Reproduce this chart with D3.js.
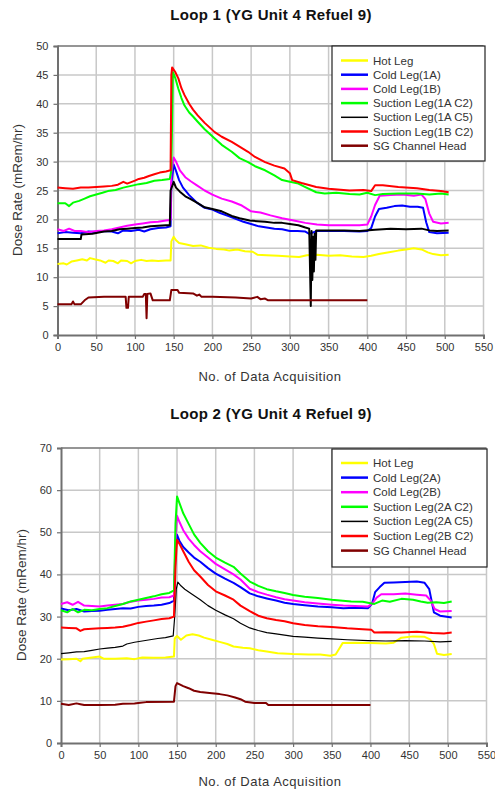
<!DOCTYPE html>
<html>
<head>
<meta charset="utf-8">
<script src="https://cdn.jsdelivr.net/npm/d3@7"></script>
<style>
  body { margin: 0; background: #fff; }
  svg { display: block; font-family: "Liberation Sans", Arial, sans-serif; }
  .tick text { fill: #333; }
</style>
</head>
<body>
<div id="chart"></div>
<script>
const svgWidth = 495
const svgHeight = 794

// x ticks shared by both loops
const xTicks = [0, 50, 100, 150, 200, 250, 300, 350, 400, 450, 500, 550]
const loop1YTicks = [0, 5, 10, 15, 20, 25, 30, 35, 40, 45, 50]
const loop2YTicks = [0, 10, 20, 30, 40, 50, 60, 70]

const loop1Names = ["Hot Leg", "Cold Leg(1A)", "Cold Leg(1B)", "Suction Leg(1A C2)", "Suction Leg(1A C5)", "Suction Leg(1B C2)", "SG Channel Head"]
const loop2Names = ["Hot Leg", "Cold Leg(2A)", "Cold Leg(2B)", "Suction Leg(2A C2)", "Suction Leg(2A C5)", "Suction Leg(2B C2)", "SG Channel Head"]
const seriesColors = ["#ffff00", "#0000ff", "#ff00ff", "#00ff00", "#000000", "#ff0000", "#800000"]

// Loop 1 readings, [data acquisition no., mRem/hr]
const loop1Hot = [[0,12.3],[8,12.4],[12,12.2],[18,12.7],[25,12.9],[32,13.1],[38,12.9],[42,13.3],[48,13.1],[55,12.9],[62,12.5],[66,12.9],[72,12.8],[78,12.4],[82,12.9],[90,12.8],[95,12.4],[100,12.8],[108,13.0],[115,12.8],[122,12.9],[130,12.8],[140,12.9],[146,12.9],[147,16.2],[150,17.0],[153,16.4],[157,15.9],[165,15.7],[175,15.4],[185,15.5],[195,15.1],[205,14.9],[215,14.8],[222,14.6],[232,14.8],[242,14.5],[252,14.4],[258,13.9],[270,13.8],[285,13.7],[300,13.6],[312,13.5],[322,13.8],[335,13.9],[350,13.7],[365,13.8],[380,13.6],[395,13.5],[405,13.7],[415,14.0],[428,14.3],[440,14.6],[450,14.8],[460,15.0],[470,14.8],[478,14.3],[485,14.0],[495,13.8],[505,13.9]]
const loop1ColdA = [[0,17.6],[10,17.8],[20,17.7],[30,17.6],[40,17.9],[50,17.8],[60,18.0],[70,17.9],[78,17.6],[85,18.1],[95,18.0],[105,18.2],[112,17.9],[120,18.3],[130,18.5],[140,18.6],[146,18.8],[147,26],[150,29.5],[153,28.4],[157,26.8],[162,25.5],[170,24.2],[180,22.9],[190,22.0],[200,21.7],[210,21.1],[220,20.6],[230,20.1],[240,19.6],[250,19.2],[260,18.8],[270,18.6],[280,18.4],[290,18.3],[300,18.0],[310,18.0],[320,17.9],[325,17.5],[335,18.0],[350,18.0],[370,18.0],[390,17.9],[400,18.0],[405,18.5],[410,20.5],[415,21.8],[425,22.0],[435,22.3],[445,22.4],[455,22.2],[465,22.2],[472,22.0],[476,19.5],[480,17.8],[490,17.6],[505,17.7]]
const loop1ColdB = [[0,18.3],[8,18.0],[15,18.4],[22,18.0],[30,18.0],[40,17.8],[50,18.0],[60,18.1],[70,18.3],[80,18.6],[90,18.9],[100,19.1],[110,19.3],[120,19.5],[130,19.6],[140,19.8],[146,19.9],[147,28],[150,30.7],[153,30.0],[158,28.5],[165,27.3],[172,26.6],[180,25.9],[190,25.0],[200,24.3],[212,23.6],[225,23.1],[238,22.4],[250,21.4],[262,21.2],[275,20.7],[290,20.2],[305,19.8],[320,19.4],[335,19.1],[350,19.0],[370,19.0],[390,19.0],[400,19.1],[405,20.5],[410,22.5],[416,24.1],[430,24.2],[445,24.3],[460,24.1],[470,24.3],[475,23.5],[480,21.0],[485,19.6],[495,19.3],[505,19.4]]
const loop1SucAC2 = [[0,22.8],[10,22.8],[15,22.3],[20,22.9],[28,23.2],[35,23.6],[42,24.0],[50,24.3],[58,24.6],[65,24.9],[75,25.1],[85,25.5],[95,25.8],[105,26.1],[115,26.3],[125,26.7],[135,26.8],[145,27.0],[147,28.5],[149,45.5],[152,44.5],[156,42.6],[160,41.0],[164,39.7],[170,38.5],[175,37.8],[181,36.9],[190,35.6],[203,34.0],[212,32.9],[225,31.7],[235,30.6],[246,29.9],[255,29.2],[268,28.5],[280,27.6],[290,26.8],[300,26.5],[311,26.2],[320,25.6],[334,24.7],[345,24.5],[360,24.6],[377,24.4],[390,24.3],[400,24.6],[410,24.2],[420,24.4],[440,24.5],[464,24.5],[480,24.3],[495,24.5],[505,24.3]]
const loop1SucAC5 = [[0,16.6],[30,16.6],[31,17.4],[45,17.5],[60,17.9],[70,18.0],[80,18.3],[90,18.4],[100,18.5],[110,18.6],[120,18.8],[130,18.9],[140,19.0],[145,19.0],[146,25.0],[150,26.5],[153,25.5],[158,24.8],[165,24.0],[172,23.5],[181,22.8],[190,22.1],[200,21.8],[212,21.4],[225,20.6],[235,20.2],[248,19.8],[258,19.7],[268,19.6],[280,19.4],[290,19.4],[300,19.2],[311,19.0],[320,18.6],[325,18.4],[327,5.0],[328,18.0],[329,9.5],[330,17.0],[331,11.0],[332,17.5],[333,13.0],[334,18.1],[350,18.1],[370,18.1],[390,18.0],[410,18.2],[430,18.4],[450,18.3],[470,18.4],[480,18.1],[490,18.0],[505,18.1]]
const loop1SucBC2 = [[0,25.5],[10,25.4],[20,25.3],[30,25.5],[40,25.5],[50,25.6],[60,25.7],[70,25.8],[78,26.0],[85,26.5],[90,26.2],[100,26.7],[105,27.0],[112,27.2],[118,27.5],[125,27.8],[132,28.1],[140,28.3],[146,28.5],[147,45],[148,46.3],[152,45.5],[156,44.4],[160,42.7],[164,41.5],[170,40.0],[175,39.0],[181,38.0],[190,36.7],[203,35.1],[212,34.3],[225,33.4],[235,32.6],[246,31.7],[255,30.8],[268,29.9],[280,29.3],[293,28.8],[300,28.0],[303,26.8],[315,26.3],[334,25.6],[350,25.3],[377,25.0],[395,25.1],[405,24.9],[410,25.9],[420,25.9],[440,25.6],[464,25.4],[480,25.1],[495,24.9],[505,24.7]]
const loop1SG = [[0,5.3],[18,5.3],[20,5.8],[22,5.3],[30,5.3],[35,6.0],[40,6.5],[60,6.6],[88,6.6],[89,4.7],[91,4.7],[92,6.6],[110,6.6],[112,7.1],[114,7.1],[115,2.9],[116,7.1],[120,7.2],[123,6.0],[145,6.0],[147,7.8],[155,7.8],[157,7.3],[175,7.2],[180,6.8],[183,7.0],[186,6.6],[200,6.6],[230,6.5],[250,6.3],[258,6.6],[262,6.2],[268,6.3],[272,6.0],[400,6.0]]

// Loop 2 readings
const loop2Hot = [[0,19.8],[10,19.9],[20,20.0],[25,19.4],[28,20.0],[40,20.3],[50,20.5],[55,20.0],[70,20.0],[85,20.1],[95,19.9],[105,20.3],[120,20.2],[135,20.3],[146,20.5],[147,24.8],[150,25.4],[155,24.5],[162,25.5],[170,25.8],[178,25.5],[185,25.0],[195,24.5],[205,24.0],[215,23.5],[223,22.9],[235,22.6],[244,22.5],[255,22.0],[266,21.7],[280,21.3],[300,21.1],[320,21.0],[335,21.0],[348,20.7],[355,21.0],[360,22.5],[364,23.7],[380,23.8],[400,23.7],[420,23.6],[430,23.8],[440,25.0],[455,25.3],[470,25.2],[477,24.6],[482,23.5],[486,21.2],[495,20.9],[505,21.1]]
const loop2ColdA = [[0,31.9],[10,31.5],[20,31.8],[30,31.2],[40,31.3],[50,31.4],[60,31.6],[70,31.8],[80,32.0],[90,31.9],[100,32.3],[110,32.5],[120,32.6],[130,32.8],[140,33.2],[146,33.8],[148,45],[150,49.4],[153,48.0],[158,46.5],[165,45.2],[172,44.0],[180,43.0],[190,41.5],[200,40.2],[212,39.0],[223,38.0],[232,37.0],[244,35.5],[255,34.8],[266,34.3],[278,33.8],[289,33.3],[300,33.0],[315,32.7],[332,32.4],[350,32.2],[365,32.0],[380,32.1],[397,32.0],[402,33.0],[406,35.8],[412,37.0],[418,38.0],[430,38.1],[445,38.2],[460,38.3],[470,38.0],[476,36.5],[482,31.0],[490,30.2],[505,29.8]]
const loop2ColdB = [[0,33.0],[8,33.4],[15,32.8],[22,33.5],[30,32.6],[40,32.5],[50,32.4],[60,32.6],[70,32.8],[80,33.0],[90,33.5],[100,33.8],[110,34.0],[120,34.2],[130,34.5],[140,34.6],[146,35.0],[148,48],[150,53.9],[153,52.5],[158,50.5],[165,48.5],[172,47.0],[180,45.5],[190,44.0],[200,42.5],[212,41.2],[223,40.0],[232,38.8],[244,36.6],[255,35.8],[266,35.2],[278,34.6],[289,34.1],[300,33.8],[315,33.4],[332,33.1],[350,32.8],[365,32.6],[380,32.5],[397,32.4],[402,33.0],[408,34.5],[414,35.3],[430,35.3],[445,35.5],[460,35.2],[472,35.0],[478,33.8],[483,31.8],[490,31.2],[505,31.3]]
const loop2SucAC2 = [[0,31.5],[8,31.0],[15,31.8],[22,31.0],[30,31.6],[40,31.5],[50,31.8],[60,32.0],[70,32.5],[80,33.0],[90,33.6],[100,34.0],[110,34.4],[120,34.8],[130,35.3],[140,35.6],[146,36.2],[148,52],[150,58.5],[153,57.0],[158,54.5],[165,52.0],[172,49.5],[180,47.5],[190,45.5],[200,44.0],[212,42.8],[223,41.8],[232,40.2],[244,38.3],[255,37.3],[266,36.5],[278,36.0],[289,35.6],[300,35.1],[315,34.7],[332,34.4],[350,34.0],[375,33.6],[390,33.5],[405,33.0],[415,33.8],[425,33.5],[440,34.2],[455,34.0],[465,33.6],[474,33.3],[485,33.4],[495,33.2],[505,33.6]]
const loop2SucAC5 = [[0,21.2],[10,21.4],[20,21.6],[30,21.7],[40,22.0],[50,22.3],[60,22.5],[70,22.7],[80,23.0],[85,23.5],[95,23.9],[105,24.2],[115,24.5],[125,24.8],[135,25.0],[145,25.4],[147,30],[149,36.5],[151,38.2],[155,37.3],[160,36.5],[168,35.5],[180,34.0],[190,32.6],[200,31.5],[212,30.4],[223,29.5],[232,28.4],[244,27.3],[255,26.7],[266,26.2],[278,25.9],[289,25.6],[300,25.3],[315,25.1],[332,24.9],[350,24.7],[370,24.5],[397,24.3],[420,24.2],[445,24.3],[470,24.2],[490,24.0],[505,24.1]]
const loop2SucBC2 = [[0,27.4],[10,27.3],[20,27.2],[25,26.6],[30,27.0],[40,27.1],[50,27.2],[60,27.3],[70,27.4],[80,27.6],[90,28.0],[100,28.5],[110,28.8],[120,29.1],[130,29.4],[140,29.6],[146,30.0],[148,42],[150,48.2],[153,47.3],[158,45.5],[165,43.0],[172,41.0],[180,39.5],[190,37.5],[200,36.0],[212,35.0],[223,34.0],[232,32.6],[244,31.3],[255,30.2],[266,29.6],[278,29.2],[289,28.9],[300,28.4],[315,28.0],[332,27.7],[350,27.5],[370,27.2],[390,27.0],[401,26.9],[405,26.2],[420,26.3],[440,26.2],[460,26.4],[480,26.1],[495,26.0],[505,26.2]]
const loop2SG = [[0,9.3],[10,9.0],[20,9.4],[25,9.2],[30,9.0],[50,9.0],[70,9.1],[80,9.3],[95,9.4],[100,9.5],[110,9.7],[146,9.8],[148,13.5],[150,14.2],[158,13.5],[165,13.0],[172,12.4],[180,12.1],[195,11.8],[205,11.6],[215,11.3],[225,10.8],[232,10.4],[238,9.8],[250,9.5],[265,9.5],[268,9.0],[300,9.0],[350,9.0],[400,9.0]]

let svg = d3
  .select("#chart")
  .append("svg")
  .attr("width", svgWidth)
  .attr("height", svgHeight)

/**
 * Draws one loop panel: grid, axes, lines, legend and labels.
 **/
function drawLoop(cfg) {
  let g = svg.append("g")

  let x = d3.scaleLinear().domain([0, 550]).range([cfg.left, cfg.right])
  let y = d3.scaleLinear().domain([0, cfg.yMax]).range([cfg.bottom, cfg.top])

  // grid
  g.append("g")
    .selectAll("line")
    .data(xTicks.slice(1))
    .enter()
    .append("line")
    .attr("x1", d => x(d))
    .attr("x2", d => x(d))
    .attr("y1", cfg.top)
    .attr("y2", cfg.bottom)
    .attr("stroke", "#c8c8c8")
    .attr("stroke-width", 1.5)

  g.append("g")
    .selectAll("line")
    .data(cfg.yTicks.slice(1))
    .enter()
    .append("line")
    .attr("x1", cfg.left)
    .attr("x2", cfg.right)
    .attr("y1", d => y(d))
    .attr("y2", d => y(d))
    .attr("stroke", "#c8c8c8")
    .attr("stroke-width", 1.5)

  // top border
  g.append("line")
    .attr("x1", cfg.left)
    .attr("x2", cfg.right)
    .attr("y1", cfg.top)
    .attr("y2", cfg.top)
    .attr("stroke", "#555")
    .attr("stroke-width", 1.2)

  let bottomAxis = d3.axisBottom(x).tickValues(xTicks).tickSize(4).tickPadding(4)
  let leftAxis = d3.axisLeft(y).tickValues(cfg.yTicks).tickSize(4).tickPadding(5)

  let xAxis = g.append("g")
    .attr("transform", `translate(0, ${cfg.bottom})`)
    .call(bottomAxis)
  let yAxis = g.append("g")
    .attr("transform", `translate(${cfg.left}, 0)`)
    .call(leftAxis)

  ;[xAxis, yAxis].forEach(a => {
    a.select(".domain").attr("stroke", "#707070").attr("stroke-width", 2)
    a.selectAll(".tick line").attr("stroke", "#707070").attr("stroke-width", 1.2)
    a.selectAll(".tick text").attr("font-size", "11px").attr("font-family", "Liberation Sans, Arial, sans-serif")
  })

  // series
  let line = d3.line().x(d => x(d[0])).y(d => y(d[1]))
  cfg.series.forEach((s, i) => {
    g.append("path")
      .datum(s)
      .attr("d", line)
      .attr("fill", "none")
      .attr("stroke", seriesColors[i])
      .attr("stroke-width", i === 4 ? cfg.blackWidth : 2)
      .attr("stroke-linejoin", "round")
  })

  // legend
  let lg = g.append("g")
  lg.append("rect")
    .attr("x", cfg.legend.x)
    .attr("y", cfg.legend.y)
    .attr("width", cfg.legend.w)
    .attr("height", cfg.legend.h)
    .attr("fill", "#fff")
    .attr("stroke", "#222")
    .attr("stroke-width", 1.2)

  cfg.names.forEach((name, i) => {
    let ly = cfg.legend.y + cfg.legend.first + i * cfg.legend.step
    lg.append("line")
      .attr("x1", cfg.legend.x + 9)
      .attr("x2", cfg.legend.x + 36)
      .attr("y1", ly)
      .attr("y2", ly)
      .attr("stroke", seriesColors[i])
      .attr("stroke-width", i === 4 ? 1.5 : 2.5)
    lg.append("text")
      .attr("x", cfg.legend.x + 41)
      .attr("y", ly)
      .attr("dy", "0.35em")
      .attr("font-size", "11.5px")
      .attr("fill", "#333")
      .text(name)
  })

  // titles
  g.append("text")
    .attr("x", 271)
    .attr("y", cfg.titleY)
    .attr("text-anchor", "middle")
    .attr("font-size", "15px")
    .attr("font-weight", "bold")
    .attr("letter-spacing", "0.3px")
    .attr("fill", "#111")
    .text(cfg.title)

  g.append("text")
    .attr("x", 270)
    .attr("y", cfg.xLabelY)
    .attr("text-anchor", "middle")
    .attr("font-size", "13px")
    .attr("letter-spacing", "0.5px")
    .attr("fill", "#333")
    .text("No. of Data Acquisition")

  g.append("text")
    .attr("transform", `translate(${cfg.yLabelX}, ${cfg.yLabelY}) rotate(-90)`)
    .attr("text-anchor", "middle")
    .attr("font-size", "13.5px")
    .attr("fill", "#333")
    .text("Dose Rate (mRem/hr)")
}

drawLoop({
  left: 57.5, right: 483.5, top: 46, bottom: 335,
  yMax: 50, yTicks: loop1YTicks,
  series: [loop1Hot, loop1ColdA, loop1ColdB, loop1SucAC2, loop1SucAC5, loop1SucBC2, loop1SG],
  names: loop1Names,
  blackWidth: 2,
  legend: { x: 332, y: 46, w: 153, h: 115, first: 14.5, step: 14.2 },
  title: "Loop 1 (YG Unit 4 Refuel 9)",
  titleY: 19.5,
  xLabelY: 381,
  yLabelX: 22,
  yLabelY: 190
})

drawLoop({
  left: 61, right: 486.5, top: 448, bottom: 743,
  yMax: 70, yTicks: loop2YTicks,
  series: [loop2Hot, loop2ColdA, loop2ColdB, loop2SucAC2, loop2SucAC5, loop2SucBC2, loop2SG],
  names: loop2Names,
  blackWidth: 1.2,
  legend: { x: 332, y: 449, w: 155, h: 118, first: 14, step: 14.6 },
  title: "Loop 2 (YG Unit 4 Refuel 9)",
  titleY: 418.5,
  xLabelY: 786,
  yLabelX: 26,
  yLabelY: 595
})
</script>
</body>
</html>
